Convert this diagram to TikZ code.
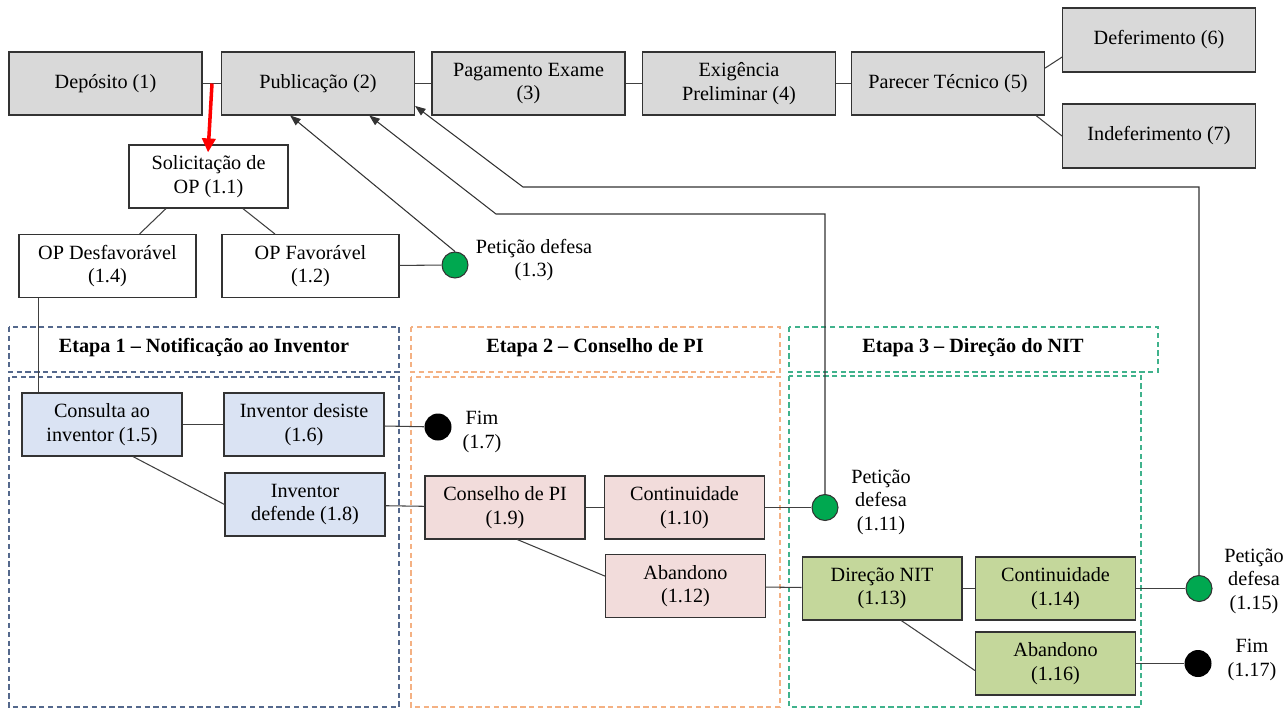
\documentclass[tikz,border=0pt]{standalone}
\usepackage{fontspec}
\setmainfont{Liberation Serif}
\usetikzlibrary{shapes.geometric, arrows.meta}
\definecolor{cinza}{RGB}{217,217,217}
\definecolor{azul}{RGB}{218,227,243}
\definecolor{rosa}{RGB}{242,220,219}
\definecolor{oliva}{RGB}{196,215,155}
\definecolor{verdepet}{RGB}{0,168,80}
\definecolor{borda1}{RGB}{84,104,140}
\definecolor{borda2}{RGB}{244,177,131}
\definecolor{borda3}{RGB}{64,178,140}
\tikzstyle{arrow} = [draw=black!80, line width=0.6pt, -{Triangle[length=6pt,width=4.5pt]}]
\tikzstyle{redarrow} = [draw=red, line width=2pt, -{Triangle[length=8pt,width=7.5pt]}]

\begin{document}
\begin{tikzpicture}[x=0.02cm, y=-0.02cm, font=\fontsize{11.5}{13.3}\selectfont,
    box/.style={draw=black!80, line width=0.6pt, rectangle, align=center, minimum height=1.26cm, inner sep=1pt},
    topbox/.style={box, fill=cinza, minimum width=3.86cm},
    opbox/.style={box, fill=white, minimum width=3.54cm},
    e1box/.style={box, fill=azul, minimum width=3.2cm},
    e2box/.style={box, fill=rosa, minimum width=3.2cm},
    e3box/.style={box, fill=oliva, minimum width=3.2cm},
    petdot/.style={circle, draw=black!80, line width=0.6pt, fill=verdepet, minimum size=0.52cm, inner sep=0pt},
    fimdot/.style={circle, fill=black, minimum size=0.54cm, inner sep=0pt},
    lbl/.style={align=center, inner sep=0pt},
    line/.style={draw=black!75, line width=0.6pt},
    etapa/.style={line width=0.6pt, dash pattern=on 3pt off 2pt}]
        \useasboundingbox (0,0) rectangle (1287,708);

        % Etapas
        \draw[etapa, borda1] (9,327) rectangle (399,372);
        \draw[etapa, borda1] (9,377) rectangle (399,707);
        \draw[etapa, borda2] (411,327) rectangle (780,372);
        \draw[etapa, borda2] (411,377) rectangle (780,707);
        \draw[etapa, borda3] (789,327) rectangle (1158,372);
        \draw[etapa, borda3] (789,376) rectangle (1141,707);
        \node[lbl] (e1) at (204,348) {\bfseries Etapa 1 – Notificação ao Inventor};
        \node[lbl] (e2) at (595,348) {\bfseries Etapa 2 – Conselho de PI};
        \node[lbl] (e3) at (973,348) {\bfseries Etapa 3 – Direção do NIT};

        % Node positions
        \node[topbox] (n1) at (105.5,83.5) {Depósito (1)};
        \node[topbox] (n2) at (318,83.5) {Publicação (2)};
        \node[topbox] (n3) at (528.5,83.5) {Pagamento Exame\\(3)};
        \node[topbox] (n4) at (739,83.5) {Exigência\\Preliminar (4)};
        \node[topbox] (n5) at (948,83.5) {Parecer Técnico (5)};
        \node[topbox, minimum height=1.28cm] (n6) at (1159,40) {Deferimento (6)};
        \node[topbox, minimum height=1.28cm] (n7) at (1159,136) {Indeferimento (7)};

        \node[opbox, minimum width=3.18cm] (n11) at (208.5,176.5) {Solicitação de\\OP (1.1)};
        \node[opbox] (n14) at (107.5,266) {OP Desfavorável\\(1.4)};
        \node[opbox] (n12) at (310.5,266) {OP Favorável\\(1.2)};
        \node[petdot] (n13) at (455,265) {};
        \node[lbl] (l13) at (534,260) {Petição defesa\\(1.3)};

        \node[e1box] (n15) at (102,424.5) {Consulta ao\\inventor (1.5)};
        \node[e1box] (n16) at (304,424.5) {Inventor desiste\\(1.6)};
        \node[fimdot] (n17) at (438,427) {};
        \node[lbl] (l17) at (482,432) {Fim\\(1.7)};
        \node[e1box] (n18) at (305,504.5) {Inventor\\defende (1.8)};

        \node[e2box] (n19) at (505,507.5) {Conselho de PI\\(1.9)};
        \node[e2box] (n110) at (684.5,507.5) {Continuidade\\(1.10)};
        \node[petdot] (n111) at (825,507.5) {};
        \node[lbl] (l111) at (881,502) {Petição\\defesa\\(1.11)};
        \node[e2box] (n112) at (685.5,586) {Abandono\\(1.12)};

        \node[e3box] (n113) at (882,588.5) {Direção NIT\\(1.13)};
        \node[e3box] (n114) at (1055.5,588.5) {Continuidade\\(1.14)};
        \node[petdot] (n115) at (1199,588.5) {};
        \node[lbl] (l115) at (1254,581) {Petição\\defesa\\(1.15)};
        \node[e3box] (n116) at (1055.5,663.5) {Abandono\\(1.16)};
        \node[fimdot] (n117) at (1198,663.5) {};
        \node[lbl] (l117) at (1252,660) {Fim\\(1.17)};

        \coordinate (gap) at (212,83.5);
        \coordinate (k11) at (496,214);
        \coordinate (k15) at (523,187);

        \draw[line] (n1) -- (n2);
        \draw[line] (n2) -- (n3);
        \draw[line] (n3) -- (n4);
        \draw[line] (n4) -- (n5);
        \draw[line] (n5.9) -- (n6.190);
        \draw[line] (n5.-20) -- (n7.west);
        \draw[redarrow, shorten >=-0.16cm] (gap) -- (n11.north);
        \draw[line] (n11.-143) -- (n14.45);
        \draw[line] (n11.-43) -- (n12.138);
        \draw[line] (n12) -- (n13);
        \draw[line] (n14.-155) -- (n14.-155 |- n15.north);
        \draw[line] (n15) -- (n16);
        \draw[line] (n16) -- (n17);
        \draw[line] (n15.-46) -- (n18.west);
        \draw[line] (n18) -- (n19);
        \draw[line] (n19) -- (n110);
        \draw[line] (n110) -- (n111);
        \draw[line] (n19.-69) -- (n112.173);
        \draw[line] (n112) -- (n113);
        \draw[line] (n113) -- (n114);
        \draw[line] (n114) -- (n115);
        \draw[line] (n113.-59) -- (n116.185);
        \draw[line] (n116) -- (n117);

        \draw[arrow] (n13.north) -- (n2.-131);
        \draw[arrow] (n111.north) |- (k11) -- (n2.-32);
        \draw[arrow] (n115.north) |- (k15) -- (n2.-13);
      \end{tikzpicture}
\end{document}
